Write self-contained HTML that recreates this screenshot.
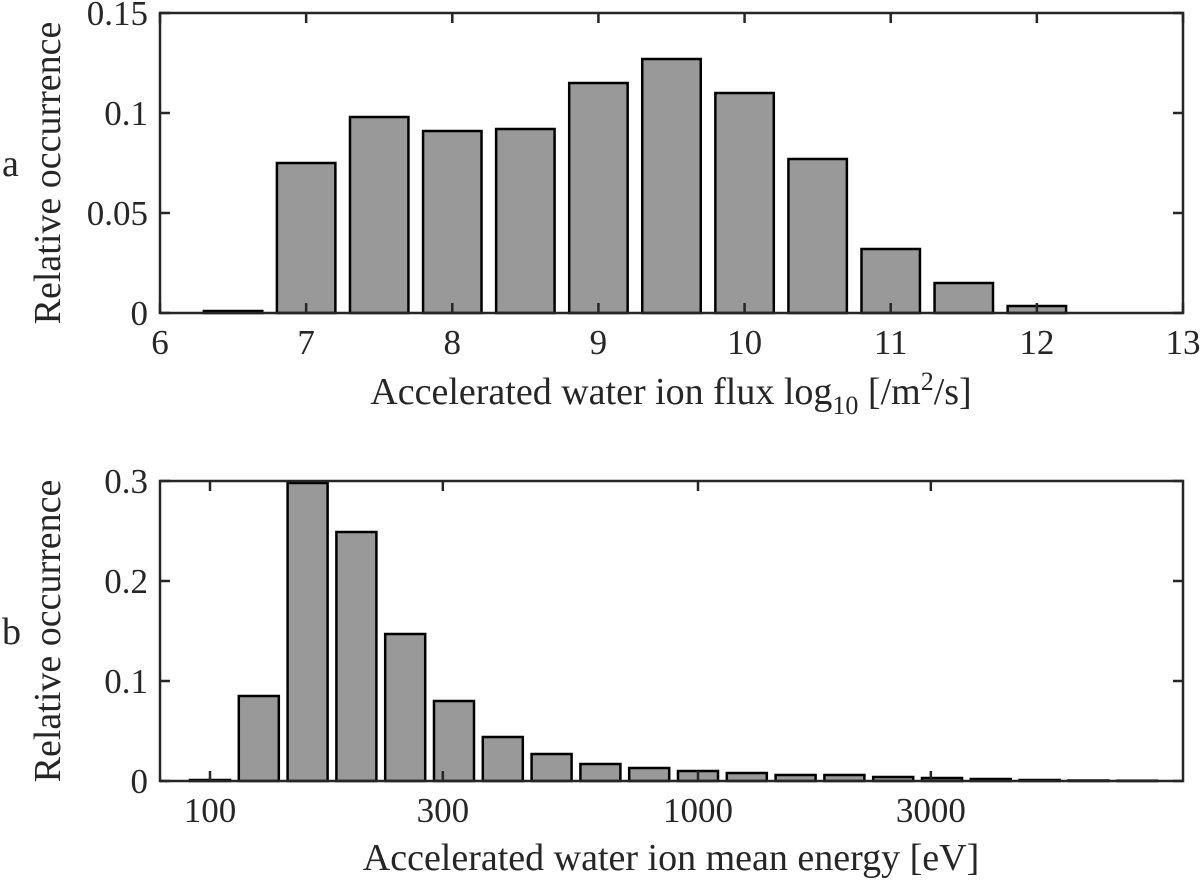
<!DOCTYPE html>
<html><head><meta charset="utf-8"><style>
body{margin:0;background:#fff}
svg text{font-family:"Liberation Serif",serif;fill:#262626}
</style></head><body>
<svg id="c" width="1200" height="879" xmlns="http://www.w3.org/2000/svg"></svg>
<script>
const fluxBins=[6.5,7,7.5,8,8.5,9,9.5,10,10.5,11,11.5,12,12.5];
const fluxValues=[0.001,0.075,0.098,0.091,0.092,0.115,0.127,0.110,0.077,0.032,0.015,0.0035,0];
const fluxXTicks=[6,7,8,9,10,11,12,13];
const fluxYTicks=[0,0.05,0.1,0.15];
const fluxYLabels=["0","0.05","0.1","0.15"];
const energyLogBins=[2.0,2.1,2.2,2.3,2.4,2.5,2.6,2.7,2.8,2.9,3.0,3.1,3.2,3.3,3.4,3.5,3.6,3.7,3.8,3.9];
const energyValues=[0.001,0.085,0.298,0.249,0.147,0.080,0.044,0.027,0.017,0.013,0.010,0.008,0.006,0.006,0.004,0.003,0.002,0.001,0.0005,0.0003];
const energyXTicks=[100,300,1000,3000];
const energyYTicks=[0,0.1,0.2,0.3];
const energyYLabels=["0","0.1","0.2","0.3"];

const svg=document.getElementById('c');
const NS='http://www.w3.org/2000/svg';
function mk(tag,attrs,text){const e=document.createElementNS(NS,tag);for(const k in attrs)e.setAttribute(k,attrs[k]);if(text!==undefined)e.textContent=text;svg.appendChild(e);return e;}

const TF=35, AF=38;
// Panel a
const L=160,R=1183;
const ax=v=>L+(v-6)*(R-L)/7;
const ayA=v=>313-v*2000;
fluxBins.forEach((b,i)=>{
  const x0=ax(b-0.2),x1=ax(b+0.2),y=ayA(fluxValues[i]);
  const r=mk('rect',{x:x0,y:y,width:x1-x0,height:313-y,fill:'#999',stroke:'#000','stroke-width':2.5});
  
  
});
const boxA=mk('rect',{x:L,y:13,width:R-L,height:300,fill:'none',stroke:'#262626','stroke-width':2.5});


fluxXTicks.forEach(t=>{
  const x=ax(t);
  mk('line',{x1:x,x2:x,y1:313,y2:303,stroke:'#262626','stroke-width':2.5});
  mk('line',{x1:x,x2:x,y1:13,y2:23,stroke:'#262626','stroke-width':2.5});
  const tx=mk('text',{x:x,y:354,'font-size':TF,'text-anchor':'middle'},String(t));
  
  
});
fluxYTicks.forEach((t,i)=>{
  const y=ayA(t);
  mk('line',{x1:L,x2:L+10,y1:y,y2:y,stroke:'#262626','stroke-width':2.5});
  mk('line',{x1:R,x2:R-10,y1:y,y2:y,stroke:'#262626','stroke-width':2.5});
  const tx=mk('text',{x:148,y:y+12,'font-size':TF,'text-anchor':'end'},fluxYLabels[i]);
  
  
});
const xtA=mk('text',{x:671,y:404,'font-size':AF,'text-anchor':'middle'});
xtA.innerHTML='Accelerated water ion flux log<tspan dy="10" font-size="26">10</tspan><tspan dy="-10"> [/m</tspan><tspan dy="-14" font-size="26">2</tspan><tspan dy="14">/s]</tspan>';


const ytA=mk('text',{x:0,y:0,'font-size':AF,'text-anchor':'middle',transform:'translate(60,173) rotate(-90)'},'Relative occurrence');


const la=mk('text',{x:2,y:176,'font-size':38},'a');



// Panel b
const bx=lg=>210+(lg-2)*488;
const ayB=v=>781-v*1000;
energyLogBins.forEach((b,i)=>{
  const x0=bx(b-0.041),x1=bx(b+0.041),y=ayB(energyValues[i]);
  const r=mk('rect',{x:x0,y:y,width:x1-x0,height:781-y,fill:'#999',stroke:'#000','stroke-width':2.5});
  
  
});
const boxB=mk('rect',{x:L,y:481,width:R-L,height:300,fill:'none',stroke:'#262626','stroke-width':2.5});


energyXTicks.forEach(t=>{
  const x=bx(Math.log10(t));
  mk('line',{x1:x,x2:x,y1:781,y2:771,stroke:'#262626','stroke-width':2.5});
  mk('line',{x1:x,x2:x,y1:481,y2:491,stroke:'#262626','stroke-width':2.5});
  const tx=mk('text',{x:x,y:822,'font-size':TF,'text-anchor':'middle'},String(t));
  
  
});
energyYTicks.forEach((t,i)=>{
  const y=ayB(t);
  mk('line',{x1:L,x2:L+10,y1:y,y2:y,stroke:'#262626','stroke-width':2.5});
  mk('line',{x1:R,x2:R-10,y1:y,y2:y,stroke:'#262626','stroke-width':2.5});
  const tx=mk('text',{x:148,y:y+12,'font-size':TF,'text-anchor':'end'},energyYLabels[i]);
  
  
});
const xtB=mk('text',{x:671,y:870,'font-size':AF,'text-anchor':'middle'},'Accelerated water ion mean energy [eV]');


const ytB=mk('text',{x:0,y:0,'font-size':AF,'text-anchor':'middle',transform:'translate(60,631) rotate(-90)'},'Relative occurrence');


const lb=mk('text',{x:2,y:644,'font-size':38},'b');


</script>
</body></html>
